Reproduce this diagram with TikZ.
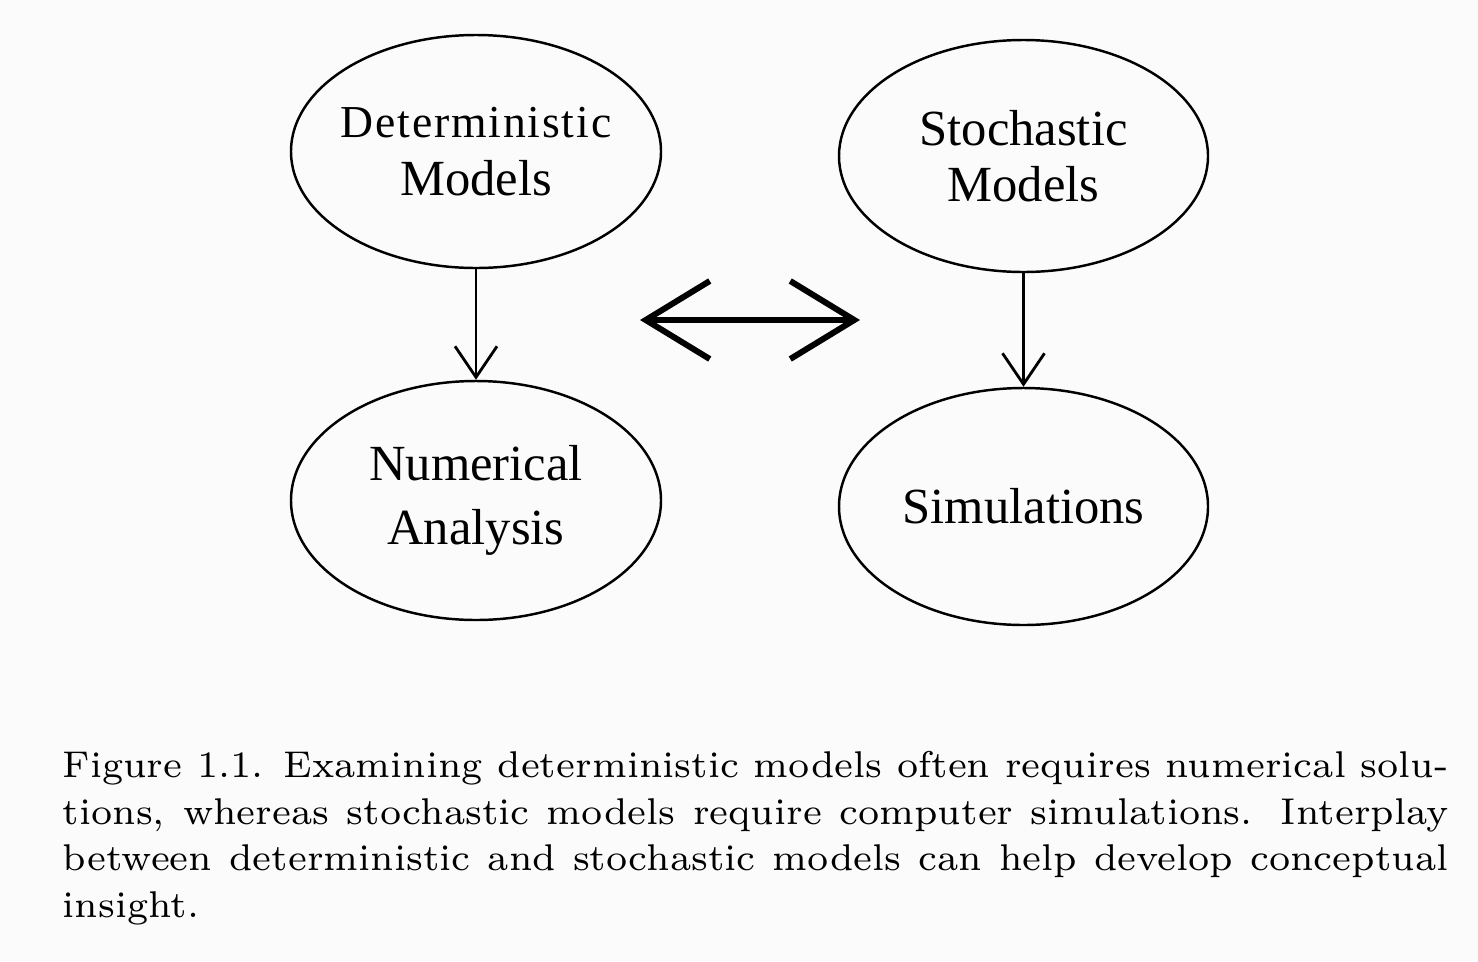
\documentclass[tikz,border=0pt]{standalone}
\usepackage{fontspec}
\newfontfamily\nodefont{Liberation Serif}
\newfontfamily\nodefontsp[LetterSpace=4]{Liberation Serif}
\newfontfamily\capfont[Extension=.otf]{lmroman7-regular}
\usetikzlibrary{shapes.geometric,arrows.meta}
\tikzset{
  model/.style={ellipse, draw=black, line width=0.7pt, inner xsep=-0.1cm, inner ysep=0pt,
    minimum width=3.70cm, align=center, font=\nodefont\fontsize{14.4}{16}\selectfont},
  flow/.style={draw=black, line width=0.8pt, -{Straight Barb[length=3.1mm,width=4.2mm,line width=0.8pt]}},
  inter/.style={draw=black, line width=1.7pt, {Straight Barb[length=6.4mm,width=7.8mm,line width=1.7pt]}-{Straight Barb[length=6.4mm,width=7.8mm,line width=1.7pt]}},
  capt/.style={anchor=base west, inner sep=0pt, text width=13.86cm, align=justify,
    font=\capfont\fontsize{10.6}{13.37}\selectfont}
}
\begin{document}
\begin{tikzpicture}
\fill[gray!3] (0,0) rectangle (14.78,-9.61);
\useasboundingbox (0,0) rectangle (14.78,-9.61);
\node[model, minimum height=2.33cm] (det) at (4.76,-1.515)
  {{\fontsize{13}{16}\nodefontsp Deterministic}\\[0.5pt] Models};
\node[model, minimum height=2.39cm] (num) at (4.76,-5.005)
  {Numerical\\[2pt] Analysis};
\node[model, minimum height=2.32cm, minimum width=3.69cm] (sto) at (10.235,-1.56)
  {Stochastic\\[0pt] Models};
\node[model, minimum height=2.37cm, minimum width=3.69cm] (sim) at (10.235,-5.065)
  {Simulations};
\draw[flow] (det.south) -- (num.north);
\draw[flow] (sto.south) -- (sim.north);
\coordinate (il) at (6.40,-3.20);
\coordinate (ir) at (8.60,-3.20);
\draw[inter] (il) -- (ir);
\node[capt] (cap) at (0.62,-7.77) {Figure 1.1. Examining deterministic models often requires numerical solu-\linebreak
tions, whereas stochastic models require computer simulations. Interplay\linebreak
between deterministic and stochastic models can help develop conceptual\linebreak
insight.};
\end{tikzpicture}
\end{document}
